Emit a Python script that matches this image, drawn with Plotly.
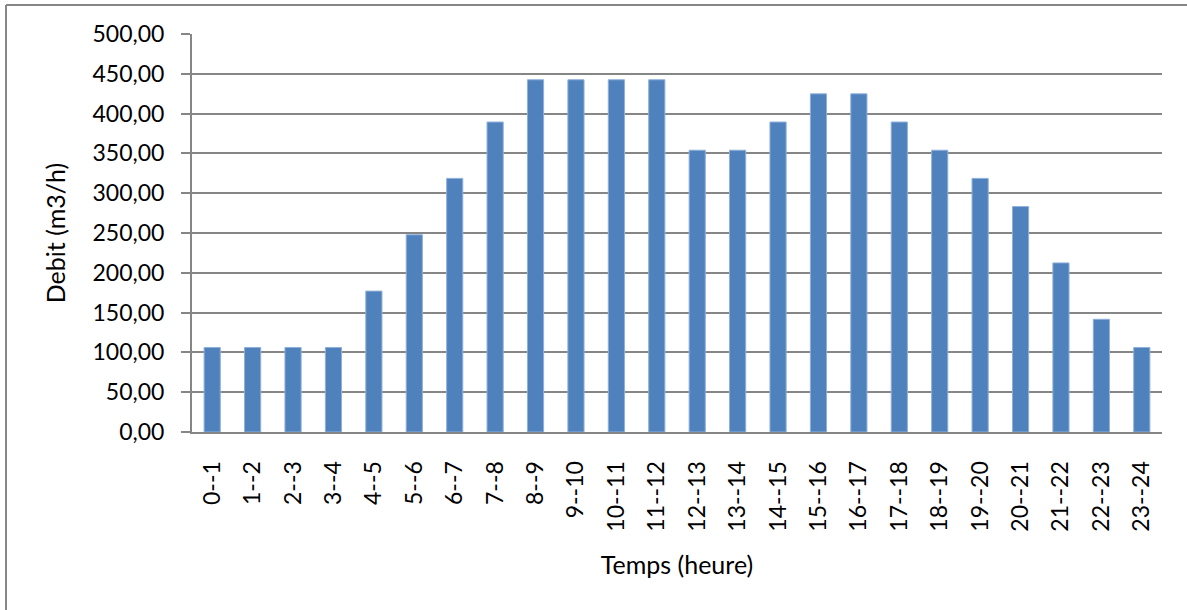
import plotly.graph_objects as go

categories = ["0--1","1--2","2--3","3--4","4--5","5--6","6--7","7--8","8--9","9--10",
              "10--11","11--12","12--13","13--14","14--15","15--16","16--17","17--18",
              "18--19","19--20","20--21","21--22","22--23","23--24"]
debit = [106.2,106.2,106.2,106.2,177.0,247.8,318.6,389.4,442.5,442.5,
         442.5,442.5,354.0,354.0,389.4,424.8,424.8,389.4,354.0,318.6,
         283.2,212.4,141.6,106.2]
y_ticks = [0,50,100,150,200,250,300,350,400,450,500]
y_labels = [f"{v:.2f}".replace(".", ",") for v in y_ticks]

W, H = 1187, 610
L, R, T, B = 192, 25, 34, 178
PW, PH = W - L - R, H - T - B
font = "Lato, 'Open Sans', sans-serif"

def px(x):
    return (x - L) / PW

def py(y):
    return (H - B - y) / PH

fig = go.Figure(go.Bar(
    x=categories, y=debit,
    marker=dict(color="#4F81BD", line=dict(color="#8EB0DA", width=1)),
    width=0.4,
))

fig.update_layout(
    width=W, height=H,
    margin=dict(l=L, r=R, t=T, b=B),
    plot_bgcolor="white", paper_bgcolor="white",
    font=dict(family=font, size=23, color="black"),
    showlegend=False,
    xaxis=dict(
        tickangle=-90, showgrid=False, showline=True, linecolor="#868686", linewidth=2,
        ticks="", ticklabelstandoff=18,
        title=dict(text="Temps (heure)", font=dict(size=25), standoff=26),
        range=[-0.5, 23.5],
    ),
    yaxis=dict(
        range=[0, 500], tickvals=y_ticks, ticktext=y_labels,
        showgrid=True, gridcolor="#868686", gridwidth=2,
        showline=True, linecolor="#868686", linewidth=2,
        ticks="outside", ticklen=9, tickcolor="#868686", tickwidth=2,
        ticklabelstandoff=12,
        title=dict(text="Debit (m3/h)", font=dict(size=25), standoff=20),
        zeroline=False,
    ),
    shapes=[
        dict(type="line", xref="paper", yref="paper",
             x0=px(6), x1=px(W + 10), y0=py(5), y1=py(5),
             line=dict(color="#868686", width=2)),
        dict(type="line", xref="paper", yref="paper",
             x0=px(6), x1=px(6), y0=py(5), y1=py(H + 10),
             line=dict(color="#868686", width=2)),
    ],
)

fig.write_html("out.html", config={"displayModeBar": False},
               post_script="document.body.style.margin='0px';")
